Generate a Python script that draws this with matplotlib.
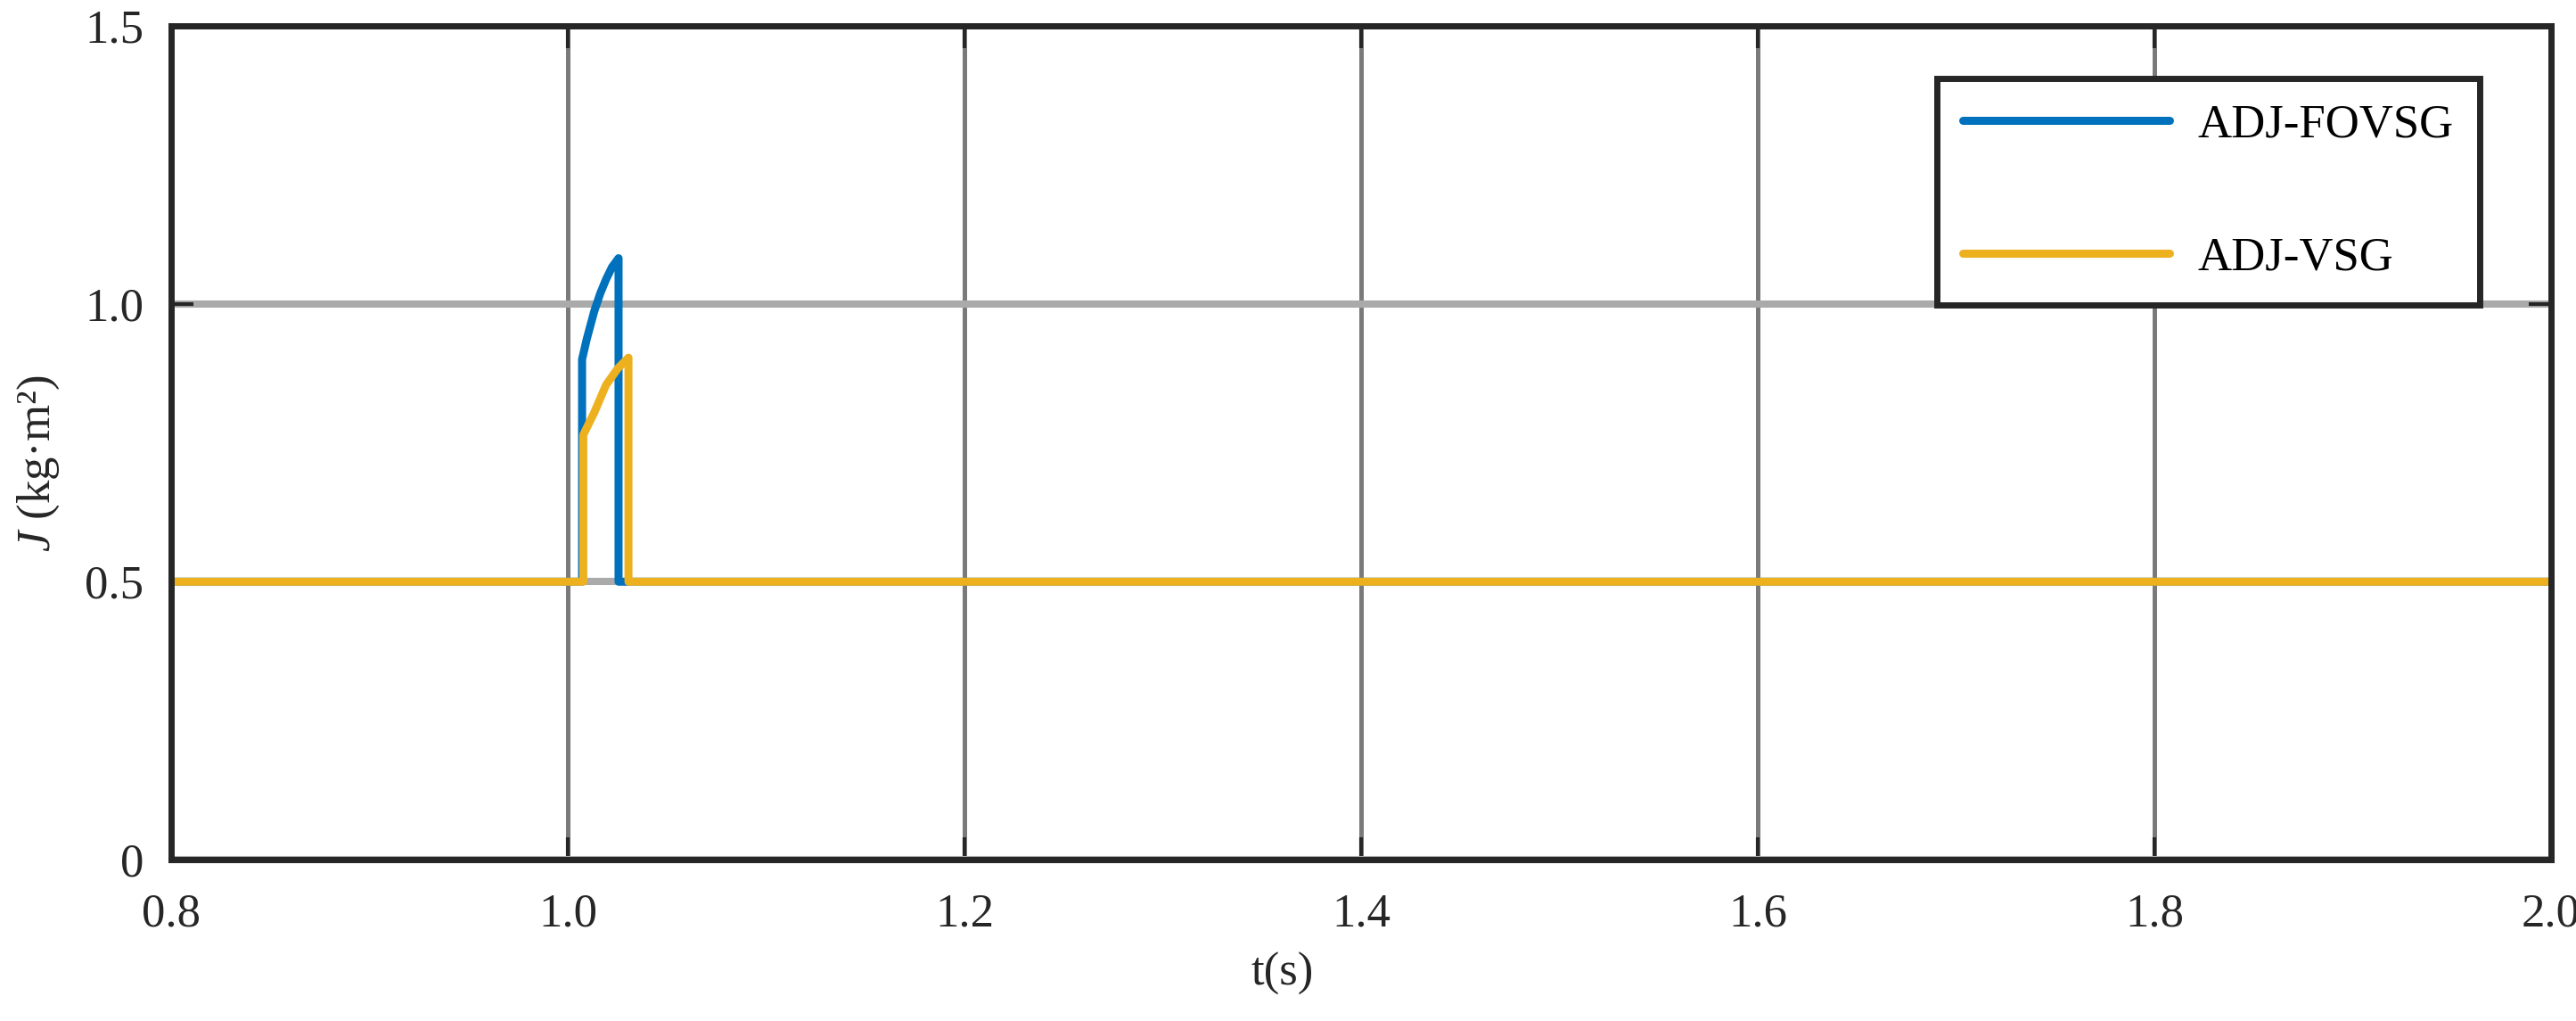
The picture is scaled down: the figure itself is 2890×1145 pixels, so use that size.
import matplotlib
matplotlib.use("Agg")
import matplotlib.pyplot as plt

# time / inertia samples
t_fovsg = [0.8, 1.0072, 1.0072, 1.0096, 1.0133, 1.0163, 1.0193, 1.0223, 1.0256, 1.0256, 2.0]
j_fovsg = [0.5, 0.5, 0.90, 0.937, 0.986, 1.018, 1.044, 1.066, 1.082, 0.5, 0.5]

t_vsg = [0.8, 1.0078, 1.0078, 1.0133, 1.0193, 1.0253, 1.0306, 1.0306, 2.0]
j_vsg = [0.5, 0.5, 0.764, 0.804, 0.854, 0.884, 0.903, 0.5, 0.5]

series_names = ["ADJ-FOVSG", "ADJ-VSG"]
x_ticks = [0.8, 1.0, 1.2, 1.4, 1.6, 1.8, 2.0]
x_ticklabels = ["0.8", "1.0", "1.2", "1.4", "1.6", "1.8", "2.0"]
y_ticks = [0, 0.5, 1.0, 1.5]
y_ticklabels = ["0", "0.5", "1.0", "1.5"]

plt.rcParams['font.family'] = ['Liberation Serif', 'DejaVu Serif']
plt.rcParams['mathtext.fontset'] = 'custom'
plt.rcParams['mathtext.it'] = 'Liberation Serif:italic'
plt.rcParams['mathtext.rm'] = 'Liberation Serif'

dark = '#262626'
fs = 38

fig = plt.figure(figsize=(28.9, 11.45), dpi=100)
ax = fig.add_axes([192 / 2890, 181 / 1145, 2670 / 2890, 935 / 1145])

ax.plot(t_fovsg, j_fovsg, color='#0072BD', lw=6.5, label=series_names[0],
        solid_joinstyle='round', solid_capstyle='round')
ax.plot(t_vsg, j_vsg, color='#EDB120', lw=6.5, label=series_names[1],
        solid_joinstyle='round', solid_capstyle='round')

ax.set_xlim(0.8, 2.0)
ax.set_ylim(0, 1.5)
ax.set_xticks(x_ticks)
ax.set_xticklabels(x_ticklabels)
ax.set_yticks(y_ticks)
ax.set_yticklabels(y_ticklabels)

ax.set_axisbelow(True)
ax.grid(axis='x', color='#7a7a7a', lw=3.6)
ax.grid(axis='y', color='#aaaaaa', lw=5.8)

ax.tick_params(axis='both', direction='in', length=18, width=3, color=dark,
               labelcolor=dark, labelsize=fs, top=True, right=True)
ax.tick_params(axis='x', pad=27)
ax.tick_params(axis='y', pad=22)

for sp in ax.spines.values():
    sp.set_linewidth(5)
    sp.set_color(dark)

ax.set_xlabel("t(s)", fontsize=fs, color=dark)
ax.xaxis.set_label_coords(0.467, -0.111)
ax.set_ylabel(r"$J$ (kg·m²)", fontsize=fs, color=dark)
ax.yaxis.set_label_coords(-0.046, 0.475)

leg = ax.legend(loc='upper right', bbox_to_anchor=(0.970, 0.937), borderaxespad=0,
                fontsize=fs, handlelength=4.4, handletextpad=0.6, labelspacing=1.9,
                borderpad=0.55, fancybox=False, framealpha=1, edgecolor=dark)
leg.get_frame().set_linewidth(5)
for txt in leg.get_texts():
    txt.set_color('black')

fig.savefig("out.png", dpi=100)
